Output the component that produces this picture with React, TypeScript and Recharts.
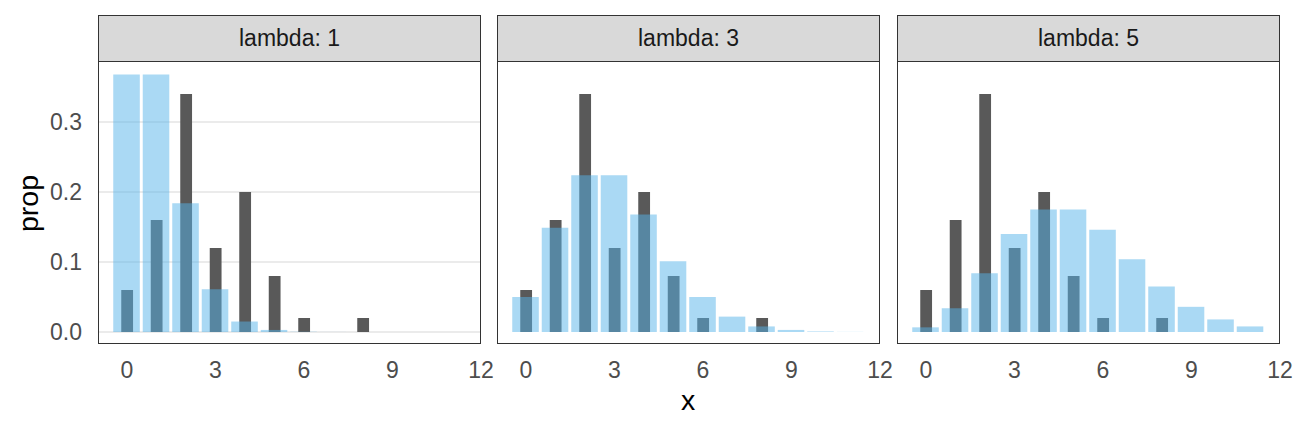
import React from 'react';
import { BarChart, Bar, XAxis, YAxis, CartesianGrid } from 'recharts';

const xValues = [0, 1, 2, 3, 4, 5, 6, 7, 8, 9, 10, 11];
const observed = [0.06, 0.16, 0.34, 0.12, 0.2, 0.08, 0.02, null, 0.02, null, null, null];
const lambdas = [1, 3, 5];
const fitLambda1 = [0.368, 0.368, 0.184, 0.061, 0.015, 0.003, 0.0005, 0.0001, 0, 0, 0, 0];
const fitLambda3 = [0.05, 0.149, 0.224, 0.224, 0.168, 0.101, 0.05, 0.022, 0.008, 0.003, 0.0008, 0.0002];
const fitLambda5 = [0.0067, 0.034, 0.084, 0.14, 0.175, 0.175, 0.146, 0.104, 0.065, 0.036, 0.018, 0.008];
const fits = [fitLambda1, fitLambda3, fitLambda5];
const xTicks = [0, 3, 6, 9, 12];
const yTicks = [0, 0.1, 0.2, 0.3];

const font = '"Liberation Sans", Arial, sans-serif';
const panelLefts = [98, 497, 897];
const panelWidth = 383;
const panelTop = 62;
const panelBottom = 344;
const stripTop = 15;
const axisW = 60;
const rightPad = 18;
const xDomain = [-0.983, 12];
const yDomain = [-0.0171, 0.3857];
const unitPx = panelWidth / (xDomain[1] - xDomain[0]);

const tickStyle = { fill: '#4D4D4D', fontSize: 23, fontFamily: font };

function Panel({ idx }: { idx: number }) {
    const data = xValues.map((x, i) => ({ x, obs: observed[i], fit: fits[idx][i] }));
    const left = panelLefts[idx] - axisW;
    return (
        <div style={{ position: 'absolute', left, top: 0 }}>
            <BarChart
                width={axisW + panelWidth + rightPad}
                height={432}
                data={data}
                margin={{ top: panelTop, right: rightPad, bottom: 432 - panelBottom - 30, left: 0 }}
            >
                <CartesianGrid vertical={false} stroke="#EBEBEB" strokeWidth={2} horizontalValues={yTicks} />
                <XAxis
                    xAxisId="obs"
                    dataKey="x"
                    type="number"
                    domain={xDomain}
                    ticks={xTicks}
                    interval={0}
                    allowDataOverflow
                    axisLine={false}
                    tickLine={false}
                    tickSize={0}
                    tickMargin={18}
                    height={30}
                    tick={tickStyle}
                />
                <XAxis
                    xAxisId="fit"
                    dataKey="x"
                    type="number"
                    domain={xDomain}
                    allowDataOverflow
                    orientation="top"
                    height={0}
                    hide
                />
                <YAxis
                    type="number"
                    domain={yDomain}
                    ticks={yTicks}
                    allowDataOverflow
                    width={axisW}
                    axisLine={false}
                    tickLine={false}
                    tickSize={0}
                    tickMargin={16}
                    tick={idx === 0 ? tickStyle : false}
                    tickFormatter={(v: number) => v.toFixed(1)}
                />
                <Bar xAxisId="obs" dataKey="obs" fill="#595959" barSize={0.4 * unitPx} isAnimationActive={false} />
                <Bar xAxisId="fit" dataKey="fit" fill="#56B4E9" fillOpacity={0.5} barSize={0.9 * unitPx} isAnimationActive={false} />
            </BarChart>
        </div>
    );
}

export default function App() {
    return (
        <div style={{ position: 'absolute', left: 0, top: 0, width: 1296, height: 432, background: '#fff', fontFamily: font }}>
            {lambdas.map((_, i) => (
                <Panel key={i} idx={i} />
            ))}
            {lambdas.map((l, i) => (
                <React.Fragment key={'s' + i}>
                    <div
                        style={{
                            position: 'absolute',
                            left: panelLefts[i],
                            top: stripTop,
                            width: panelWidth,
                            height: panelTop - stripTop,
                            boxSizing: 'border-box',
                            border: '1.3px solid #333333',
                            background: '#D9D9D9',
                            color: '#1A1A1A',
                            fontSize: 23,
                            display: 'flex',
                            alignItems: 'center',
                            justifyContent: 'center',
                        }}
                    >
                        lambda: {l}
                    </div>
                    <div
                        style={{
                            position: 'absolute',
                            left: panelLefts[i],
                            top: panelTop - 1,
                            width: panelWidth,
                            height: panelBottom - panelTop + 1,
                            boxSizing: 'border-box',
                            border: '1.3px solid #333333',
                            pointerEvents: 'none',
                        }}
                    />
                </React.Fragment>
            ))}
            <svg width={1296} height={432} style={{ position: 'absolute', left: 0, top: 0, pointerEvents: 'none' }}>
                <text x={688} y={410} textAnchor="middle" fontSize={28.5} fontFamily={font} fill="#000">
                    x
                </text>
                <text transform="translate(38,203.5) rotate(-90)" textAnchor="middle" fontSize={28.5} fontFamily={font} fill="#000">
                    prop
                </text>
            </svg>
        </div>
    );
}
